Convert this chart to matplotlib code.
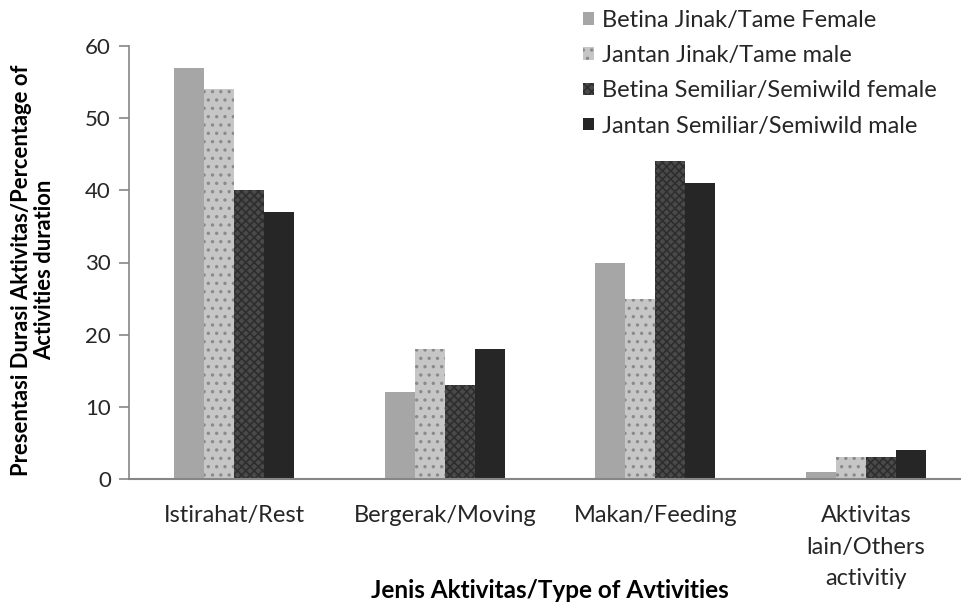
import matplotlib
matplotlib.use("Agg")
import matplotlib.pyplot as plt
import numpy as np

plt.rcParams['font.family'] = ['Lato', 'DejaVu Sans']
plt.rcParams['hatch.linewidth'] = 1.2

categories = ["Istirahat/Rest", "Bergerak/Moving", "Makan/Feeding", "Aktivitas\nlain/Others\nactivitiy"]
series_names = ["Betina Jinak/Tame Female", "Jantan Jinak/Tame male",
                "Betina Semiliar/Semiwild female", "Jantan Semiliar/Semiwild male"]
tame_female = [57, 12, 30, 1]
tame_male = [54, 18, 25, 3]
semiwild_female = [40, 13, 44, 3]
semiwild_male = [37, 18, 41, 4]
yticks = [0, 10, 20, 30, 40, 50, 60]

values = [tame_female, tame_male, semiwild_female, semiwild_male]
faces = ["#a6a6a6", "#c6c6c6", "#4a4a4a", "#262626"]
hatches = [None, "..", "xxxx", None]
hcolors = ["#a6a6a6", "#8a8a8a", "#2e2e2e", "#262626"]

W, H = 961, 606
fig = plt.figure(figsize=(W / 100, H / 100), dpi=100)
left, right, top, bottom = 129, 961, 46, 479
ax = fig.add_axes([left / W, 1 - bottom / H, (right - left) / W, (bottom - top) / H])

x = np.arange(len(categories))
w = 0.1425
for i, (vals, fc, h, hc, name) in enumerate(zip(values, faces, hatches, hcolors, series_names)):
    ax.bar(x + (i - 1.5) * w, vals, w, color=fc, edgecolor=hc, hatch=h,
           linewidth=0, label=name)

spacing = 210.5
ax.set_xlim(-0.5, -0.5 + (right - left) / spacing)
ax.set_ylim(0, 60)
ax.set_yticks(yticks)
ax.set_xticks(x)
ax.set_xticklabels(categories, fontsize=17, color="#262626", linespacing=1.62, va="top")
ax.tick_params(axis='x', length=0, pad=19)
ax.tick_params(axis='y', labelsize=16, length=7, width=1.2, color="#868686",
               labelcolor="#262626", pad=6)
for s in ["top", "right"]:
    ax.spines[s].set_visible(False)
ax.spines["left"].set_color("#868686")
ax.spines["bottom"].set_color("#868686")
ax.spines["left"].set_linewidth(1.2)
ax.spines["bottom"].set_linewidth(1.5)

fig.text(33 / W, 1 - 270 / H, "Presentasi Durasi Aktivitas/Percentage of\nActivities duration",
         rotation=90, ha="center", va="center", fontsize=15.8, fontweight="bold",
         color="#000000", multialignment="center", linespacing=1.15)
fig.text(550 / W, 1 - 590 / H, "Jenis Aktivitas/Type of Avtivities", fontsize=17.5,
         fontweight="bold", color="#000000", ha="center", va="center")

leg = fig.legend(loc="upper left", bbox_to_anchor=(583 / W, 1 - 10 / H), frameon=False,
                 fontsize=17, handlelength=0.45, handleheight=0.45, handletextpad=0.34,
                 labelspacing=0.6, labelcolor="#262626", borderpad=0, borderaxespad=0)

fig.savefig("out.png", dpi=100)
